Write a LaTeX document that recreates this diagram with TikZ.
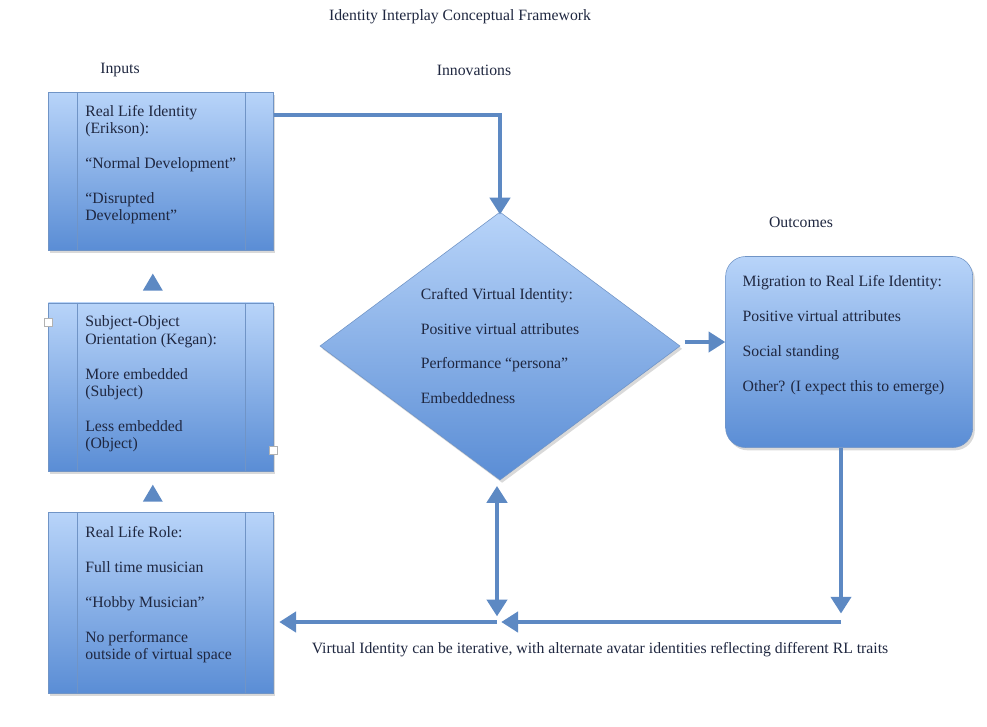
\documentclass[tikz,border=0pt]{standalone}
\usepackage{fontspec}
\setmainfont{Liberation Serif}
\usepackage{tikz}
\usetikzlibrary{arrows.meta,shapes.geometric,shadows,calc,positioning}
\definecolor{BoxTop}{HTML}{B8D4F9}
\definecolor{BoxBot}{HTML}{5A8DD5}
\definecolor{BoxEdge}{HTML}{7094C6}
\definecolor{FlowBlue}{HTML}{5D89C3}
\definecolor{TextInk}{HTML}{1F2740}
\newcommand{\fsz}{\fontsize{11.2}{12.4}\selectfont}
\newcommand{\pgap}{12.4pt}
\tikzset{
    blueshade/.style={top color=BoxTop,bottom color=BoxBot,draw=BoxEdge,thin,
        drop shadow={shadow xshift=1.5pt,shadow yshift=-2pt,opacity=0.3}},
    inbox/.style={blueshade,rectangle,minimum width=5.625cm,minimum height=#1,inner sep=0pt,
        path picture={
            \draw[BoxEdge,thin] ([xshift=0.725cm]path picture bounding box.north west) -- ([xshift=0.725cm]path picture bounding box.south west);
            \draw[BoxEdge,thin] ([xshift=-0.7cm]path picture bounding box.north east) -- ([xshift=-0.7cm]path picture bounding box.south east);
        }},
    boxtext/.style={anchor=north west,align=left,inner sep=0pt,font=\fsz,text=TextInk},
    label/.style={inner sep=0pt,font=\fsz,text=TextInk},
    flow/.style={draw=FlowBlue,line width=3.5pt,-{Triangle[width=0.5cm,length=0.42cm]}},
    handle/.style={draw=gray!60,fill=white,thin,minimum size=0.2cm,inner sep=0pt}
}

\begin{document}
\begin{tikzpicture}[x=0.025cm,y=-0.025cm]
    \useasboundingbox (0,0) rectangle (987,726);    % Freeze the bounding box
    % --- --- --- Headings
    \node[label] (TITLE) at (460,17) {Identity Interplay Conceptual Framework};
    \node[label] (H_IN)  at (120,70) {Inputs};
    \node[label] (H_INNO) at (474,70) {Innovations};
    \node[label] (H_OUT) at (801,222) {Outcomes};
    % --- --- --- Inputs
    \node[inbox=3.95cm,anchor=north west] (IN_ERIK) at (48,92) {};
    \node[inbox=4.2cm,below=1.3cm of IN_ERIK] (IN_KEGAN) {};
    \node[inbox=4.525cm,below=1.025cm of IN_KEGAN] (IN_ROLE) {};
    \node[boxtext] (TXT_ERIK) at ($(IN_ERIK.north west)+(37,13)$) {Real Life Identity\\(Erikson):\\[\pgap]“Normal Development”\\[\pgap]“Disrupted\\Development”};
    \node[boxtext] (TXT_KEGAN) at ($(IN_KEGAN.north west)+(37,13)$) {Subject-Object\\Orientation (Kegan):\\[\pgap]More embedded\\(Subject)\\[\pgap]Less embedded\\(Object)};
    \node[boxtext] (TXT_ROLE) at ($(IN_ROLE.north west)+(37,14)$) {Real Life Role:\\[\pgap]Full time musician\\[\pgap]“Hobby Musician”\\[\pgap]No performance\\outside of virtual space};
    \node[handle] (HND_L) at ($(IN_KEGAN.north west)+(0,20)$) {};
    \node[handle] (HND_R) at ($(IN_KEGAN.south east)+(0,-21)$) {};
    %
    \coordinate (T_UP1) at ($(IN_ERIK.south)!0.5!(IN_KEGAN.north)+(-8,6)$);
    \coordinate (T_UP2) at ($(IN_KEGAN.south)!0.5!(IN_ROLE.north)+(-8,2)$);
    \fill[FlowBlue] ($(T_UP1)+(0,-9)$) -- ($(T_UP1)+(-10,8)$) -- ($(T_UP1)+(10,8)$) -- cycle;
    \fill[FlowBlue] ($(T_UP2)+(0,-9)$) -- ($(T_UP2)+(-10,8)$) -- ($(T_UP2)+(10,8)$) -- cycle;
    % --- --- --- Innovations
    \node[diamond,blueshade,aspect=1.34,minimum width=9cm,minimum height=6.7cm,inner sep=1pt,font=\fsz,text=TextInk,align=left] (CVI) at (500,346) {Crafted Virtual Identity:\\[\pgap]Positive virtual attributes\\[\pgap]Performance “persona”\\[\pgap]Embeddedness};
    % --- --- --- Outcomes
    \node[blueshade,rectangle,rounded corners=0.5cm,minimum width=6.175cm,minimum height=4.775cm,right=1.125cm of CVI,yshift=-0.15cm] (OUT_MIG) {};
    \node[boxtext] (TXT_MIG) at ($(OUT_MIG.north west)+(17,19)$) {Migration to Real Life Identity:\\[\pgap]Positive virtual attributes\\[\pgap]Social standing\\[\pgap]Other? (I expect this to emerge)};
    % === === === Connectors
    \draw[flow] ($(IN_ERIK.north east)+(0,23)$) -| ([yshift=-2pt]CVI.north);
    \draw[flow,shorten <=3pt] ($(CVI.east)+(0,-4)$) -- ($(CVI.east -| OUT_MIG.west)+(0,-4)$);
    \coordinate (LOOP_R) at (841,622);
    \coordinate (LOOP_M) at (497,622);
    \draw[flow] (OUT_MIG.south -| LOOP_R) -- ([yshift=6pt]LOOP_R);
    \draw[flow,shorten >=3pt] (LOOP_R) -- (LOOP_M);
    \draw[flow,{Triangle[width=0.5cm,length=0.42cm]}-{Triangle[width=0.5cm,length=0.42cm]},shorten <=4pt] (CVI.south -| LOOP_M) -- ([yshift=4pt]LOOP_M);
    \draw[flow,shorten >=4pt] (LOOP_M) -- (IN_ROLE.east |- LOOP_M);
    \node[label] (NOTE) at (600,650) {Virtual Identity can be iterative, with alternate avatar identities reflecting different RL traits};
\end{tikzpicture}
\end{document}
